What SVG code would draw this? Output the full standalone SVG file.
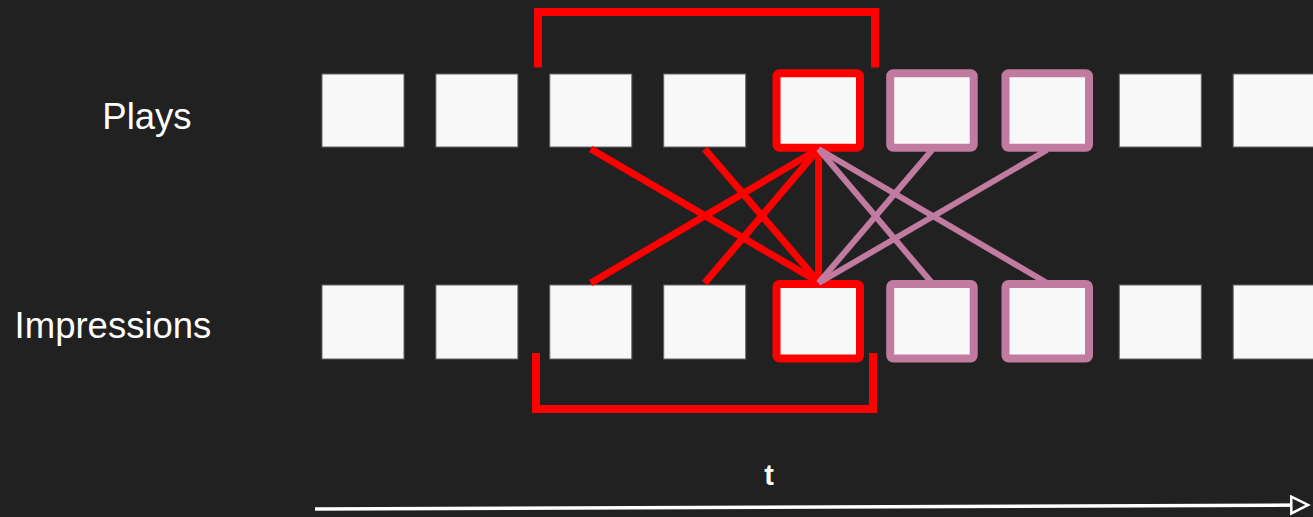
<svg xmlns="http://www.w3.org/2000/svg" width="1313" height="517" viewBox="0 0 1313 517">
  <style>
    .sq { fill: #f8f8f8; stroke: #666666; stroke-width: 1; }
    .red { fill: #f8f8f8; stroke: #ff0000; stroke-width: 8; }
    .pink { fill: #f8f8f8; stroke: #c27ba0; stroke-width: 8; }
    .lbl { font-family: "Liberation Sans", Arial, sans-serif; fill: #ffffff; }
    .rl { stroke: #ff0000; stroke-width: 7; fill: none; }
    .pl { stroke: #c27ba0; stroke-width: 6; fill: none; }
    .br { stroke: #ff0000; stroke-width: 8; fill: none; stroke-linejoin: miter; }
  </style>
  <defs>
    <marker id="arr" viewBox="0 0 10 10" refX="8" refY="5" markerWidth="7" markerHeight="6" markerUnits="strokeWidth" orient="auto">
      <path d="M1,1 L9,5 L1,9 Z" fill="#212121" stroke="#ffffff" stroke-width="1.2"/>
    </marker>
  </defs>
  <rect x="0" y="0" width="1313" height="517" fill="#212121"/>

  <g id="label-plays"><text class="lbl" x="147" y="129" font-size="36.5" text-anchor="middle">Plays</text></g>
  <g id="label-impressions"><text class="lbl" x="113" y="338" font-size="36.5" text-anchor="middle">Impressions</text></g>
  <g id="label-t"><text class="lbl" x="769" y="485" font-size="29" font-weight="bold" text-anchor="middle">t</text></g>

  <g id="plays-row">
    <rect id="p1" class="sq" x="322" y="74" width="82" height="73"/>
    <rect id="p2" class="sq" x="435.9" y="74" width="82" height="73"/>
    <rect id="p3" class="sq" x="549.8" y="74" width="82" height="73"/>
    <rect id="p4" class="sq" x="663.7" y="74" width="82" height="73"/>
    <rect id="p5" class="red" x="776.5" y="73.3" width="83.5" height="74.5" rx="3"/>
    <rect id="p6" class="pink" x="890.2" y="73.3" width="83.5" height="74.5" rx="3"/>
    <rect id="p7" class="pink" x="1005.5" y="73.3" width="83.5" height="74.5" rx="3"/>
    <rect id="p8" class="sq" x="1119.3" y="74" width="82" height="73"/>
    <rect id="p9" class="sq" x="1233.2" y="74" width="82" height="73"/>
  </g>

  <g id="impressions-row">
    <rect id="i1" class="sq" x="322" y="285" width="82" height="74"/>
    <rect id="i2" class="sq" x="435.9" y="285" width="82" height="74"/>
    <rect id="i3" class="sq" x="549.8" y="285" width="82" height="74"/>
    <rect id="i4" class="sq" x="663.7" y="285" width="82" height="74"/>
    <rect id="i5" class="red" x="776.5" y="284" width="83.5" height="74.5" rx="3"/>
    <rect id="i6" class="pink" x="890.2" y="284" width="83.5" height="74.5" rx="3"/>
    <rect id="i7" class="pink" x="1005.5" y="284" width="83.5" height="74.5" rx="3"/>
    <rect id="i8" class="sq" x="1119.3" y="285" width="82" height="74"/>
    <rect id="i9" class="sq" x="1233.2" y="285" width="82" height="74"/>
  </g>

  <g id="brackets">
    <path class="br" d="M538,67.5 V12 H875 V67.5"/>
    <path class="br" d="M536,353 V409 H873 V353"/>
  </g>

  <g id="connectors">
    <line class="rl" x1="590.8" y1="149" x2="818.6" y2="282"/>
    <line class="rl" x1="704.7" y1="149" x2="818.6" y2="282"/>
    <line class="rl" x1="590.8" y1="283" x2="818.6" y2="149"/>
    <line class="rl" x1="704.7" y1="283" x2="818.6" y2="149"/>
    <line class="rl" x1="818.6" y1="149" x2="818.6" y2="282"/>
    <line class="pl" x1="818.6" y1="149" x2="932" y2="283"/>
    <line class="pl" x1="818.6" y1="149" x2="1047" y2="283"/>
    <line class="pl" x1="932" y1="150" x2="818.6" y2="283"/>
    <line class="pl" x1="1047" y1="150" x2="818.6" y2="283"/>
    <line x1="315" y1="509" x2="1306" y2="505" stroke="#ffffff" stroke-width="3.5" marker-end="url(#arr)"/>
  </g>
</svg>
